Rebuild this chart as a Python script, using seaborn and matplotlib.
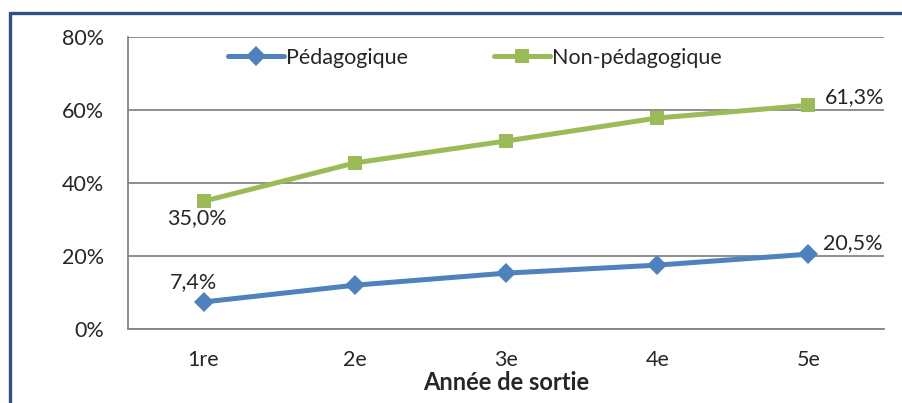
import matplotlib
matplotlib.use("Agg")
import matplotlib.pyplot as plt
import matplotlib.patches as mpatches
import seaborn as sns
import pandas as pd

# valeurs
annees = ["1re", "2e", "3e", "4e", "5e"]
pedagogique = [7.4, 12.0, 15.3, 17.5, 20.5]
non_pedagogique = [35.0, 45.5, 51.5, 57.8, 61.3]
series = ["Pédagogique", "Non-pédagogique"]

sns.set_style("white")
plt.rcParams["font.family"] = ["Lato", "DejaVu Sans"]

df = pd.DataFrame({
    "annee": annees * 2,
    "pct": pedagogique + non_pedagogique,
    "serie": [series[0]] * 5 + [series[1]] * 5,
})
df["pos"] = list(range(5)) * 2

fig = plt.figure(figsize=(9.03, 4.03), dpi=100)
ax = fig.add_axes([128 / 903, 1 - 329 / 403, (884 - 128) / 903, (329 - 37) / 403])

blue = "#4F81BD"
green = "#9BBB59"
sns.lineplot(data=df, x="pos", y="pct", hue="serie", style="serie",
             palette={series[0]: blue, series[1]: green},
             markers={series[0]: "D", series[1]: "s"},
             dashes=False, linewidth=3.6, markersize=10, markeredgewidth=0,
             ax=ax)

fs = 15.5
ax.set_xlim(-0.5, 4.5)
ax.set_ylim(0, 80)
ax.set_yticks([0, 20, 40, 60, 80])
ax.set_yticklabels([f"{v}%" for v in [0, 20, 40, 60, 80]])
ax.set_xticks(range(5))
ax.set_xticklabels(annees)
ax.set_xticks([i - 0.5 for i in range(6)], minor=True)
ax.tick_params(axis="x", which="major", length=0, pad=15, labelsize=fs)
ax.tick_params(axis="x", which="minor", length=6, width=1.3, color="#868686", direction="out")
ax.tick_params(axis="y", length=6, width=1.3, color="#868686", labelsize=fs, pad=11)
ax.yaxis.grid(True, color="#868686", linewidth=1.3)
ax.set_axisbelow(True)
for side in ["top", "right"]:
    ax.spines[side].set_visible(False)
for side in ["left", "bottom"]:
    ax.spines[side].set_color("#868686")
    ax.spines[side].set_linewidth(1.3)

ax.set_ylabel("")
ax.set_xlabel("Année de sortie", fontsize=17, fontweight="bold", labelpad=1)

# étiquettes de données
ax.annotate("7,4%", (0, pedagogique[0]), xytext=(-7, 14), textcoords="offset points",
            ha="center", va="center", fontsize=fs)
ax.annotate("20,5%", (4, pedagogique[4]), xytext=(32, 8), textcoords="offset points",
            ha="center", va="center", fontsize=fs)
ax.annotate("35,0%", (0, non_pedagogique[0]), xytext=(-5, -12), textcoords="offset points",
            ha="center", va="center", fontsize=fs)
ax.annotate("61,3%", (4, non_pedagogique[4]), xytext=(33, 6), textcoords="offset points",
            ha="center", va="center", fontsize=fs)

ax.legend(loc="upper center", bbox_to_anchor=(0.459, 1.0), ncol=2, frameon=False,
          fontsize=fs, handlelength=2.6, handletextpad=0.1, columnspacing=4.0,
          borderaxespad=0.1)

# cadre bleu autour du graphique
fig.patches.append(mpatches.Rectangle((10 / 903, -0.05), 1.2, 1 - 13 / 403 + 0.05,
                                      transform=fig.transFigure, fill=False,
                                      edgecolor="#2C5183", linewidth=2.4))

fig.savefig("out.png", dpi=100)
